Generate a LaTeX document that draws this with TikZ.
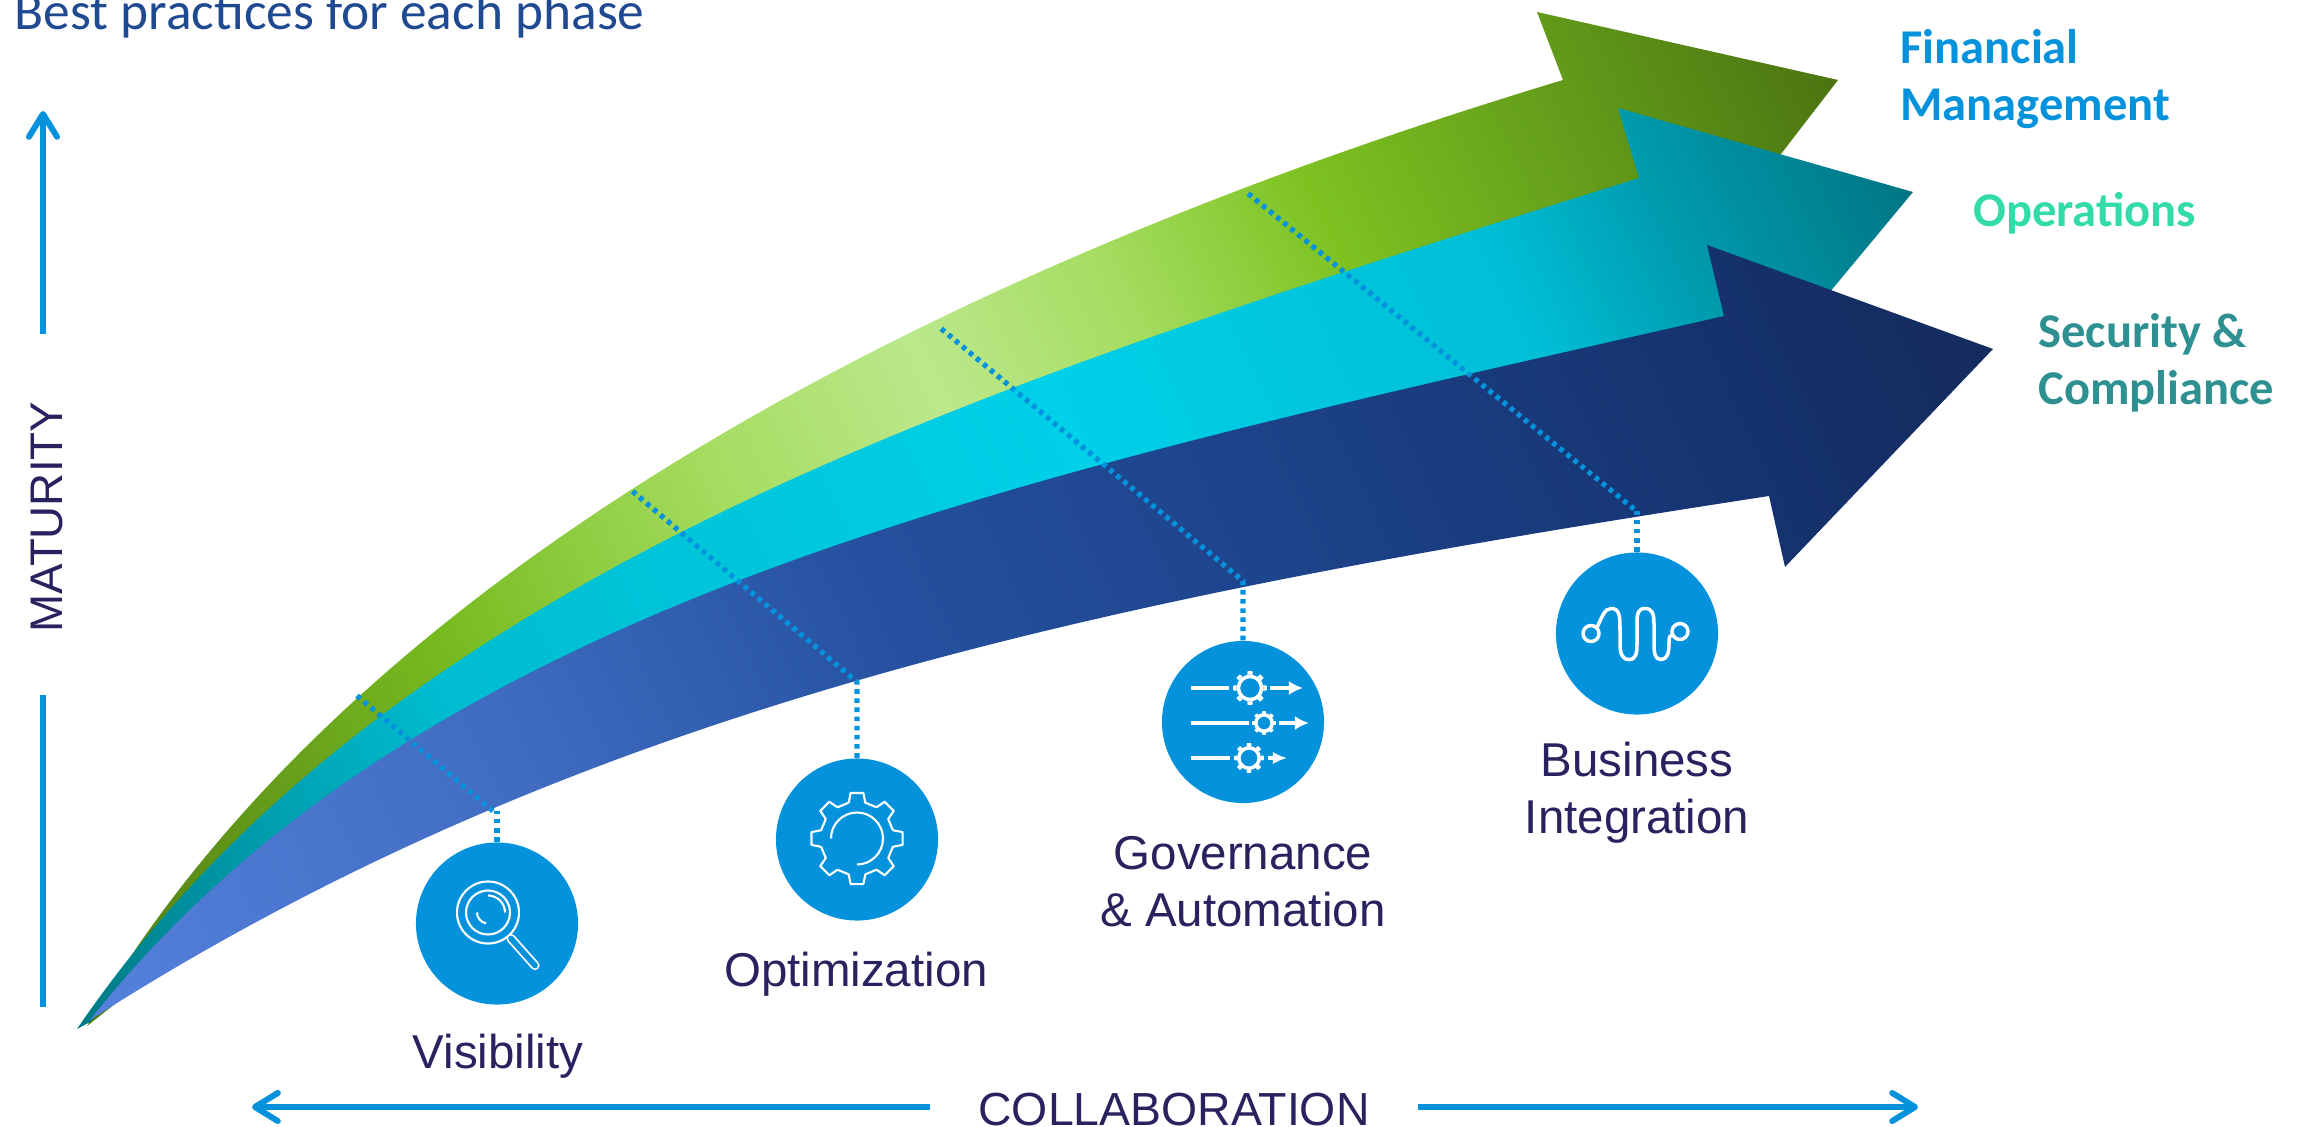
\documentclass[tikz,border=0pt]{standalone}
\usepackage{fontspec}
\setmainfont{Liberation Sans}
\newfontfamily\carlito{Carlito}
\usetikzlibrary{arrows.meta}

\definecolor{capblue}{HTML}{0492DC}
\definecolor{inkblue}{HTML}{28235F}
\definecolor{titleblue}{HTML}{1F4A92}
\definecolor{opsgreen}{HTML}{33DBA8}
\definecolor{secteal}{HTML}{2E9090}

\definecolor{greena}{HTML}{4F7A14}
\definecolor{greenb}{HTML}{78BB20}
\definecolor{greenc}{HTML}{A4DC5F}
\definecolor{greend}{HTML}{BCE88C}
\definecolor{greene}{HTML}{7DC221}
\definecolor{greenf}{HTML}{5F9619}
\definecolor{greeng}{HTML}{4C7511}
\definecolor{teala}{HTML}{007A86}
\definecolor{tealb}{HTML}{00BCD0}
\definecolor{tealc}{HTML}{00D0E8}
\definecolor{teald}{HTML}{00BED6}
\definecolor{teale}{HTML}{0098AB}
\definecolor{tealf}{HTML}{007684}
\definecolor{navya}{HTML}{5580DC}
\definecolor{navyb}{HTML}{3F6CC0}
\definecolor{navyc}{HTML}{25509F}
\definecolor{navyd}{HTML}{1C4187}
\definecolor{navye}{HTML}{16336F}
\definecolor{navyf}{HTML}{142C60}

\pgfdeclarehorizontalshading{greenband}{100bp}{
    color(0bp)=(greena); color(17bp)=(greena); color(33bp)=(greenb);
    color(43bp)=(greenc); color(51bp)=(greend); color(58bp)=(greenc);
    color(65bp)=(greene); color(75bp)=(greenf); color(82bp)=(greeng); color(100bp)=(greeng)}
\pgfdeclarehorizontalshading{tealband}{100bp}{
    color(0bp)=(teala); color(17bp)=(teala); color(32bp)=(tealb);
    color(54bp)=(tealc); color(69bp)=(teald); color(75bp)=(teale);
    color(82bp)=(tealf); color(100bp)=(tealf)}
\pgfdeclarehorizontalshading{navyband}{100bp}{
    color(0bp)=(navya); color(17bp)=(navya); color(33bp)=(navyb);
    color(46bp)=(navyc); color(60bp)=(navyd); color(73bp)=(navye);
    color(80bp)=(navyf); color(100bp)=(navyf)}

% outline gear, for the optimization circle
\newcommand{\linegear}[3]{
    \begin{scope}[shift={(#1,#2)}]
        \foreach \a in {0,45,...,315} {
            \draw[icon] (\a-13:#3*0.8) -- (\a-8:#3) -- (\a+8:#3) -- (\a+13:#3*0.8) -- (\a+32:#3*0.8);
        }
    \end{scope}
}
% solid small gear, for the governance circle
\newcommand{\solidgear}[3]{
    \begin{scope}[shift={(#1,#2)}]
        \foreach \a in {0,45,...,315} {
            \fill[white] (\a-12:#3*0.8) -- (\a-8:#3) -- (\a+8:#3) -- (\a+12:#3*0.8) -- cycle;
        }
        \draw[white, fill = capblue, line width = 1pt] (0,0) circle[radius = #3*0.68];
    \end{scope}
}

\begin{document}
\begin{tikzpicture}[
    x = 0.01cm, y = -0.01cm,
    >={Straight Barb[length = 6.5pt, width = 8pt, round]},
    axis/.style = {draw = capblue, line width = 1.7pt},
    dotline/.style = {draw = capblue, line width = 1.5pt, dash pattern = on 1.3pt off 1.3pt},
    badge/.style = {shape = circle, fill = capblue, minimum size = 1.62cm, inner sep = 0},
    icon/.style = {draw = white, line width = 0.6pt, line join = round},
    tick/.style = {draw = white, line width = 0.9pt},
    stage/.style = {text = inkblue, align = center, anchor = base, font = \fontsize{13.5}{16.2}\selectfont},
    track/.style = {anchor = base west, align = left, font = \carlito\bfseries\fontsize{13.8}{16.2}\selectfont},
    ]
    \useasboundingbox (0, 0) rectangle (2302, 1127);

    \node[anchor = base west, text = titleblue, font = \carlito\fontsize{15.2}{18}\selectfont] (title) at (2, 29) {Best practices for each phase};

    % the three arrows
    \path[shade, shading = greenband, shading angle = 25] (87, 1026) .. controls (340, 590) and (900, 280) .. (1563, 80) -- (1537, 12) -- (1838, 80) -- (1734, 215) -- (1700, 225) .. controls (1050, 400) and (400, 700) .. (120, 1000) -- cycle;
    \path[shade, shading = tealband, shading angle = 25] (77, 1029) .. controls (390, 570) and (980, 385) .. (1639, 178) -- (1618, 108) -- (1913, 192) -- (1790, 340) -- (1770, 320) .. controls (1050, 510) and (430, 640) .. (90, 1022) -- cycle;
    \path[shade, shading = navyband, shading angle = 25] (90, 1020) .. controls (430, 590) and (1050, 470) .. (1724, 316) -- (1707, 245) -- (1993, 349) -- (1785, 567) -- (1769, 496) .. controls (1119, 596) and (587, 702) .. (90, 1020) -- cycle;

    \node[track, text = capblue] (finance) at (1888, 120.5) {Financial\\Management};
    \node[track, text = opsgreen] (operations) at (1961, 226.5) {Operations};
    \node[track, text = secteal] (security) at (2026, 404.5) {Security \&\\Compliance};

    % axes
    \node[rotate = 90, anchor = base, text = inkblue, font = \fontsize{13}{16}\selectfont] (maturity) at (62, 517) {MATURITY};
    \node[anchor = base, text = inkblue, font = \fontsize{13.2}{16}\selectfont] (collaboration) at (1174, 1125) {COLLABORATION};
    \coordinate (up1) at (43, 334);
    \coordinate (up2) at (43, 111);
    \coordinate (up3) at (43, 695);
    \coordinate (up4) at (43, 1007);
    \coordinate (left1) at (930, 1107);
    \coordinate (left2) at (252, 1107);
    \coordinate (right1) at (1418, 1107);
    \coordinate (right2) at (1918, 1107);
    \draw[axis, ->] (up1) -- (up2);
    \draw[axis] (up3) -- (up4);
    \draw[axis, ->] (left1) -- (left2);
    \draw[axis, ->] (right1) -- (right2);

    % phases
    \node[badge] (vis) at (497, 923.5) {};
    \node[badge] (opt) at (857, 839.5) {};
    \node[badge] (gov) at (1243, 722) {};
    \node[badge] (biz) at (1637, 633.5) {};

    \node[stage] (vislabel) at (498, 1068.5) {Visibility};
    \node[stage] (optlabel) at (856, 986.5) {Optimization};
    \node[stage] (govlabel) at (1243, 926.5) {Governance\\\& Automation};
    \node[stage] (bizlabel) at (1637, 833.5) {Business\\Integration};

    % dotted drop lines
    \coordinate (visbend) at (493, 811);
    \coordinate (vistop) at (355, 694);
    \coordinate (optbend) at (857, 682);
    \coordinate (opttop) at (631, 490);
    \coordinate (govbend) at (1243, 581);
    \coordinate (govtop) at (938, 326);
    \coordinate (bizbend) at (1634, 509);
    \coordinate (biztop) at (1245, 191);
    \draw[dotline] (vis.north) -- (vis.north |- visbend);
    \draw[dotline] (visbend) -- (vistop);
    \draw[dotline] (opt.north) -- (optbend) -- (opttop);
    \draw[dotline] (gov.north) -- (govbend) -- (govtop);
    \draw[dotline] (biz.north) -- (biz.north |- bizbend);
    \draw[dotline] (bizbend) -- (biztop);

    % magnifier
    \draw[icon] (488, 912.5) circle[radius = 31];
    \draw[icon] (488, 912.5) circle[radius = 22];
    \draw[icon] (488, 912.5) ++(270:17) arc[start angle = 270, end angle = 360, radius = 17];
    \draw[icon] (488, 912.5) ++(180:11) arc[start angle = 180, end angle = 100, radius = 11];
    \draw[white, line width = 2.6pt, line cap = round] (511, 938.5) -- (535, 965.5);
    \draw[capblue, line width = 1.6pt, line cap = round] (511, 938.5) -- (535, 965.5);

    % gear with open ring
    \linegear{857}{838.5}{46}
    \draw[icon] (857, 838.5) ++(180:26) arc[start angle = 180, end angle = 450, radius = 26];

    % gears on lines
    \draw[tick] (1191, 688) -- (1229, 688);
    \solidgear{1250}{688}{17}
    \draw[tick, -{Latex[length = 4pt, width = 4pt]}] (1270, 688) -- (1303, 688);
    \draw[tick] (1191, 723) -- (1249, 723);
    \solidgear{1264}{723}{12}
    \draw[tick, -{Latex[length = 4pt, width = 4pt]}] (1279, 723) -- (1309, 723);
    \draw[tick] (1191, 758) -- (1230, 758);
    \solidgear{1249}{758}{15}
    \draw[tick, -{Latex[length = 4pt, width = 3.5pt]}] (1268, 758) -- (1287, 758);

    % wave
    \begin{scope}[yshift = -0.015cm]
        \draw[icon, line width = 1pt] (1591, 632) circle[radius = 8];
        \draw[icon, line width = 1pt] (1680, 630) circle[radius = 8];
        \draw[icon, line width = 1pt] (1597, 626) .. controls (1602, 615) and (1605, 607) .. (1611, 607) .. controls (1620, 607) and (1620, 615) .. (1620, 630) -- (1620, 642) .. controls (1620, 652) and (1622, 658) .. (1629, 658) .. controls (1636, 658) and (1637, 652) .. (1637, 642) -- (1637, 622) .. controls (1637, 612) and (1638, 607) .. (1645, 607) .. controls (1652, 607) and (1654, 612) .. (1654, 622) -- (1654, 642) .. controls (1654, 652) and (1655, 658) .. (1661, 658) .. controls (1667, 658) and (1669, 652) .. (1669, 642) .. controls (1669, 634) and (1670, 634) .. (1673, 633);
    \end{scope}
\end{tikzpicture}
\end{document}
